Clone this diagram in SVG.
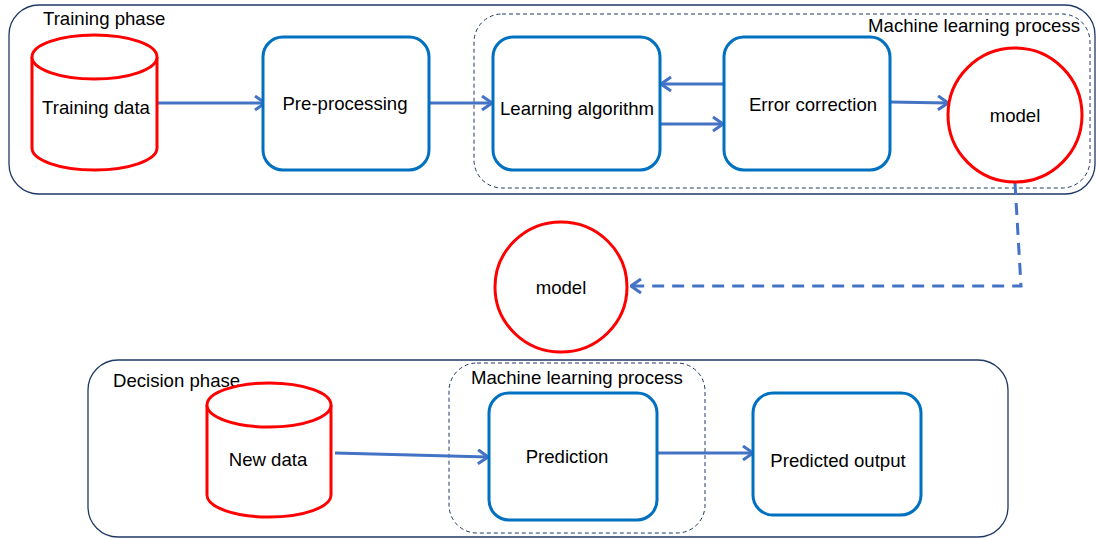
<svg xmlns="http://www.w3.org/2000/svg" width="1096" height="538" viewBox="0 0 1096 538">
  <style>
    text { font-family: "Liberation Sans", Arial, sans-serif; font-size: 18.6px; fill: #000000; }
    .mid { text-anchor: middle; }
    .phase { fill: none; stroke: #1F3864; stroke-width: 1.3; }
    .group { fill: none; stroke: #1F3864; stroke-width: 1; stroke-dasharray: 4 3; }
    .proc { fill: #FFFFFF; stroke: #0070C0; stroke-width: 3; }
    .store { fill: #FFFFFF; stroke: #FF0000; stroke-width: 3; }
    .link { fill: none; stroke: #4472C4; stroke-width: 3; marker-end: url(#chevron); }
    .dashed { stroke-dasharray: 12 8; }
  </style>
  <defs>
    <marker id="chevron" viewBox="0 0 12 16" refX="11" refY="8" markerWidth="12" markerHeight="16" markerUnits="userSpaceOnUse" orient="auto">
      <path d="M1,1 L11,8 L1,15" fill="none" stroke="#4472C4" stroke-width="3" stroke-linejoin="miter"/>
    </marker>
  </defs>

  <!-- Phase containers -->
  <g id="training-phase">
    <rect class="phase" x="9" y="5" width="1086" height="189" rx="30"/>
    <text x="43" y="25">Training phase</text>
  </g>
  <g id="training-ml-process">
    <rect class="group" x="474" y="14" width="616" height="174" rx="28"/>
    <text x="1080" y="32" text-anchor="end">Machine learning process</text>
  </g>
  <g id="decision-phase">
    <rect class="phase" x="88" y="360" width="920" height="177" rx="30"/>
    <text x="113" y="387">Decision phase</text>
  </g>
  <g id="decision-ml-process">
    <rect class="group" x="449" y="363" width="256" height="170" rx="28"/>
    <text x="471" y="384">Machine learning process</text>
  </g>

  <!-- Connectors -->
  <g id="connectors">
    <path class="link" d="M157,103 L265,103"/>
    <path class="link" d="M430,103 L492,103"/>
    <path class="link" d="M724,84 L661,84"/>
    <path class="link" d="M660,124 L723,124"/>
    <path class="link" d="M890,102 L948,103"/>
    <path class="link dashed" d="M1015,183 L1021,286 L631,286"/>
    <path class="link" d="M335,453 L488,457"/>
    <path class="link" d="M657,453 L753,453"/>
  </g>

  <!-- Training phase nodes -->
  <g id="training-data">
    <path class="store" d="M32,57 V148 A62.5,22 0 0 0 157,148 V57"/>
    <ellipse class="store" cx="94.5" cy="57" rx="62.5" ry="22"/>
    <text class="mid" x="96" y="114">Training data</text>
  </g>
  <g id="pre-processing">
    <rect class="proc" x="263" y="37" width="166" height="133" rx="20"/>
    <text class="mid" x="345" y="110">Pre-processing</text>
  </g>
  <g id="learning-algorithm">
    <rect class="proc" x="493" y="37" width="167" height="133" rx="20"/>
    <text class="mid" x="577" y="115">Learning algorithm</text>
  </g>
  <g id="error-correction">
    <rect class="proc" x="724" y="37" width="166" height="133" rx="20"/>
    <text class="mid" x="813" y="111">Error correction</text>
  </g>
  <g id="model-trained">
    <ellipse class="store" cx="1015" cy="115" rx="67" ry="67"/>
    <text class="mid" x="1015" y="122">model</text>
  </g>

  <!-- Model handed over to the decision phase -->
  <g id="model-deployed">
    <ellipse class="store" cx="561" cy="287" rx="66" ry="65"/>
    <text class="mid" x="561" y="294">model</text>
  </g>

  <!-- Decision phase nodes -->
  <g id="new-data">
    <path class="store" d="M207,405 V495 A62,22 0 0 0 331,495 V405"/>
    <ellipse class="store" cx="269" cy="405" rx="62" ry="22"/>
    <text class="mid" x="268" y="466">New data</text>
  </g>
  <g id="prediction">
    <rect class="proc" x="489" y="393" width="168" height="127" rx="20"/>
    <text class="mid" x="567" y="463">Prediction</text>
  </g>
  <g id="predicted-output">
    <rect class="proc" x="753" y="393" width="168" height="122" rx="20"/>
    <text class="mid" x="838" y="467">Predicted output</text>
  </g>
</svg>
